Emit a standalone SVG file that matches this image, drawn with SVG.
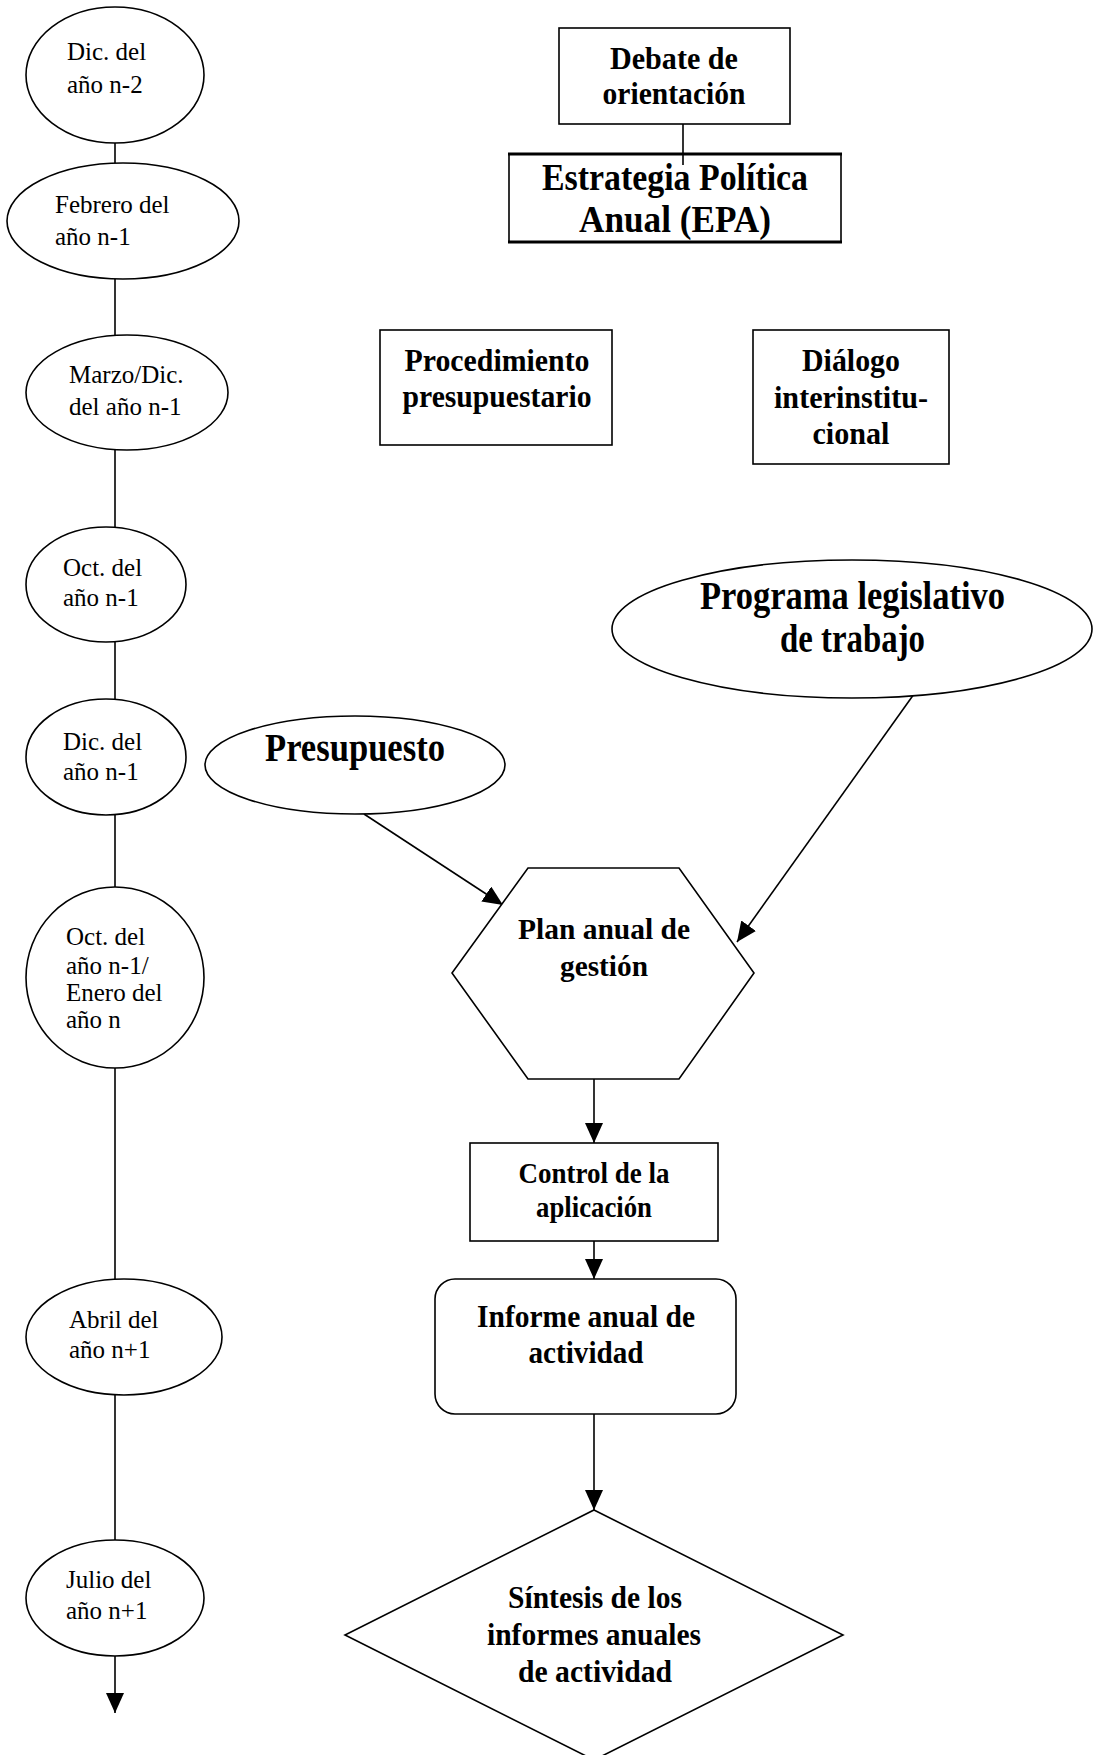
<svg xmlns="http://www.w3.org/2000/svg" width="1093" height="1755" viewBox="0 0 1093 1755">
<defs>
<style>
.s{fill:#fff;stroke:#000;stroke-width:1.6}
.c{fill:none;stroke:#000;stroke-width:1.6}
.t{font-family:"Liberation Serif","Times New Roman",serif;font-size:25px;fill:#000}
.b{font-family:"Liberation Serif","Times New Roman",serif;font-weight:bold;fill:#000;text-anchor:middle}
</style>
<marker id="ah" markerUnits="userSpaceOnUse" markerWidth="20" markerHeight="18" refX="20" refY="9" orient="auto" viewBox="0 0 20 18">
<path d="M0,0 L20,9 L0,18 z" fill="#000"/>
</marker>
</defs>
<rect width="1093" height="1755" fill="#fff"/>

<g id="connectors">
<line class="c" x1="115" y1="143" x2="115" y2="163"/>
<line class="c" x1="115" y1="279" x2="115" y2="335"/>
<line class="c" x1="115" y1="450" x2="115" y2="527"/>
<line class="c" x1="115" y1="642" x2="115" y2="699"/>
<line class="c" x1="115" y1="815" x2="115" y2="887"/>
<line class="c" x1="115" y1="1068" x2="115" y2="1279"/>
<line class="c" x1="115" y1="1395" x2="115" y2="1540"/>
<line class="c" x1="115" y1="1656" x2="115" y2="1713" marker-end="url(#ah)"/>
<line class="c" x1="683" y1="124" x2="683" y2="165"/>
<line class="c" x1="364" y1="814" x2="503" y2="905" marker-end="url(#ah)"/>
<line class="c" x1="914" y1="694" x2="737" y2="942" marker-end="url(#ah)"/>
<line class="c" x1="594" y1="1079" x2="594" y2="1143" marker-end="url(#ah)"/>
<line class="c" x1="594" y1="1241" x2="594" y2="1279" marker-end="url(#ah)"/>
<line class="c" x1="594" y1="1414" x2="594" y2="1510" marker-end="url(#ah)"/>
</g>

<g id="n-dic-n2">
<ellipse class="s" cx="115" cy="75" rx="89" ry="68"/>
<text class="t" x="67" y="60">Dic. del</text>
<text class="t" x="67" y="93">año n-2</text>
</g>
<g id="n-feb-n1">
<ellipse class="s" cx="123" cy="221" rx="116" ry="58"/>
<text class="t" x="55" y="213">Febrero del</text>
<text class="t" x="55" y="245">año n-1</text>
</g>
<g id="n-marzo-n1">
<ellipse class="s" cx="127" cy="392.5" rx="101" ry="57.5"/>
<text class="t" x="69" y="383">Marzo/Dic.</text>
<text class="t" x="69" y="415">del año n-1</text>
</g>
<g id="n-oct-n1">
<ellipse class="s" cx="106" cy="584.5" rx="80" ry="57.5"/>
<text class="t" x="63" y="576">Oct. del</text>
<text class="t" x="63" y="606">año n-1</text>
</g>
<g id="n-dic-n1">
<ellipse class="s" cx="106" cy="757" rx="80" ry="58"/>
<text class="t" x="63" y="750">Dic. del</text>
<text class="t" x="63" y="780">año n-1</text>
</g>
<g id="n-oct-enero">
<ellipse class="s" cx="115" cy="977.5" rx="89" ry="90.5"/>
<text class="t" x="66" y="945">Oct. del</text>
<text class="t" x="66" y="974">año n-1/</text>
<text class="t" x="66" y="1001">Enero del</text>
<text class="t" x="66" y="1028">año n</text>
</g>
<g id="n-abril">
<ellipse class="s" cx="124" cy="1337" rx="98" ry="58"/>
<text class="t" x="69" y="1328">Abril del</text>
<text class="t" x="69" y="1358">año n+1</text>
</g>
<g id="n-julio">
<ellipse class="s" cx="115" cy="1598" rx="89" ry="58"/>
<text class="t" x="66" y="1588">Julio del</text>
<text class="t" x="66" y="1619">año n+1</text>
</g>

<g id="n-debate">
<rect class="s" x="559" y="28" width="231" height="96"/>
<text class="b" font-size="31" x="674" y="69" textLength="128" lengthAdjust="spacingAndGlyphs">Debate de</text>
<text class="b" font-size="31" x="674" y="104" textLength="143" lengthAdjust="spacingAndGlyphs">orientación</text>
</g>
<g id="n-epa">
<rect class="s" x="509" y="154" width="332" height="88" fill="none"/>
<line x1="508" y1="154" x2="842" y2="154" stroke="#000" stroke-width="3"/>
<line x1="508" y1="242" x2="842" y2="242" stroke="#000" stroke-width="3"/>
<line class="c" x1="683" y1="154" x2="683" y2="165"/>
<text class="b" font-size="37" x="675" y="190" textLength="266" lengthAdjust="spacingAndGlyphs">Estrategia Política</text>
<text class="b" font-size="37" x="675" y="232" textLength="192" lengthAdjust="spacingAndGlyphs">Anual (EPA)</text>
</g>
<g id="n-procedimiento">
<rect class="s" x="380" y="330" width="232" height="115"/>
<text class="b" font-size="31" x="497" y="371" textLength="185" lengthAdjust="spacingAndGlyphs">Procedimiento</text>
<text class="b" font-size="31" x="497" y="407" textLength="189" lengthAdjust="spacingAndGlyphs">presupuestario</text>
</g>
<g id="n-dialogo">
<rect class="s" x="753" y="330" width="196" height="134"/>
<text class="b" font-size="31" x="851" y="371" textLength="98" lengthAdjust="spacingAndGlyphs">Diálogo</text>
<text class="b" font-size="31" x="851" y="408" textLength="154" lengthAdjust="spacingAndGlyphs">interinstitu-</text>
<text class="b" font-size="31" x="851" y="444" textLength="77" lengthAdjust="spacingAndGlyphs">cional</text>
</g>
<g id="n-programa">
<ellipse class="s" cx="852" cy="629" rx="240" ry="69"/>
<text class="b" font-size="39" x="852.5" y="609" textLength="305" lengthAdjust="spacingAndGlyphs">Programa legislativo</text>
<text class="b" font-size="39" x="852.5" y="652" textLength="145" lengthAdjust="spacingAndGlyphs">de trabajo</text>
</g>
<g id="n-presupuesto">
<ellipse class="s" cx="355" cy="765" rx="150" ry="49"/>
<text class="b" font-size="39" x="355" y="761" textLength="180" lengthAdjust="spacingAndGlyphs">Presupuesto</text>
</g>
<g id="n-plan">
<polygon class="s" points="528,868 679,868 754,973 679,1079 528,1079 452,973"/>
<text class="b" font-size="30" x="604" y="939" textLength="172" lengthAdjust="spacingAndGlyphs">Plan anual de</text>
<text class="b" font-size="30" x="604" y="976" textLength="88" lengthAdjust="spacingAndGlyphs">gestión</text>
</g>
<g id="n-control">
<rect class="s" x="470" y="1143" width="248" height="98"/>
<text class="b" font-size="29" x="594" y="1183" textLength="151" lengthAdjust="spacingAndGlyphs">Control de la</text>
<text class="b" font-size="29" x="594" y="1217" textLength="116" lengthAdjust="spacingAndGlyphs">aplicación</text>
</g>
<g id="n-informe">
<rect class="s" x="435" y="1279" width="301" height="135" rx="20" ry="20"/>
<text class="b" font-size="32" x="586" y="1327" textLength="218" lengthAdjust="spacingAndGlyphs">Informe anual de</text>
<text class="b" font-size="32" x="586" y="1363" textLength="115" lengthAdjust="spacingAndGlyphs">actividad</text>
</g>
<g id="n-sintesis">
<polygon class="s" points="594,1510 843,1635 594,1760 345,1635"/>
<text class="b" font-size="32" x="595" y="1608" textLength="174" lengthAdjust="spacingAndGlyphs">Síntesis de los</text>
<text class="b" font-size="32" x="594" y="1645" textLength="214" lengthAdjust="spacingAndGlyphs">informes anuales</text>
<text class="b" font-size="32" x="595" y="1682" textLength="154" lengthAdjust="spacingAndGlyphs">de actividad</text>
</g>
</svg>
